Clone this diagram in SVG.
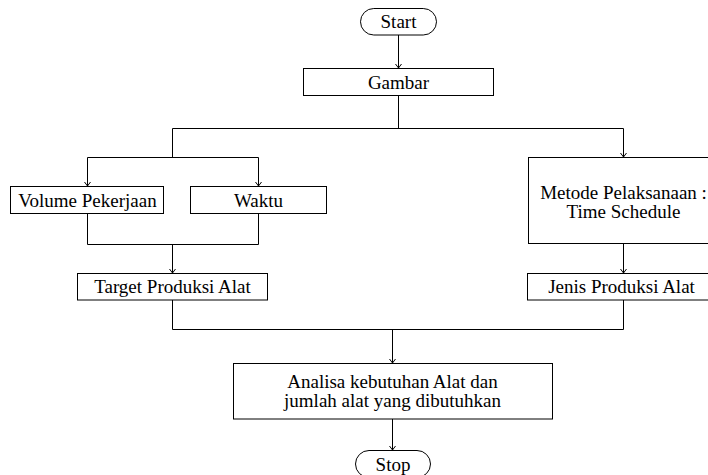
<svg xmlns="http://www.w3.org/2000/svg" width="708" height="475" viewBox="0 0 708 475">
<style>
.box{fill:#fff;stroke:#000;stroke-width:1}
.t{font-size:19px;fill:#000;text-anchor:middle}
.c{fill:none;stroke:#000;stroke-width:1}
</style>
<defs>
<marker id="arr" markerWidth="10" markerHeight="10" refX="5" refY="5" orient="auto" markerUnits="userSpaceOnUse">
<path d="M1,2 L5,5 L1,8" fill="none" stroke="#000" stroke-width="1"/>
</marker>
</defs>
<rect width="708" height="475" fill="#fff"/>
<g id="connectors">
<path class="c" d="M398.5,35 V68" marker-end="url(#arr)"/>
<path class="c" d="M398.5,96 V128.5 M172.5,128.5 H623.5"/>
<path class="c" d="M172.5,128.5 V157.5 M87.5,157.5 H258.5"/>
<path class="c" d="M87.5,157.5 V186" marker-end="url(#arr)"/>
<path class="c" d="M258.5,157.5 V186" marker-end="url(#arr)"/>
<path class="c" d="M623.5,128.5 V157" marker-end="url(#arr)"/>
<path class="c" d="M87.5,213 V244.5 H258.5 V213"/>
<path class="c" d="M172.5,244.5 V273" marker-end="url(#arr)"/>
<path class="c" d="M623.5,243 V273" marker-end="url(#arr)"/>
<path class="c" d="M172.5,300 V329.5 H623.5 V300"/>
<path class="c" d="M392.5,329.5 V363" marker-end="url(#arr)"/>
<path class="c" d="M392.5,419 V450" marker-end="url(#arr)"/>
</g>
<g font-family="Liberation Serif, DejaVu Serif, serif">
<g id="start">
<rect class="box" x="360.5" y="8.5" width="76" height="26.5" rx="13.25"/>
<text class="t" x="398.5" y="28">Start</text>
</g>
<g id="gambar">
<rect class="box" x="303.5" y="68.5" width="190" height="27"/>
<text class="t" x="398.5" y="88.5">Gambar</text>
</g>
<g id="volume">
<rect class="box" x="10.5" y="186.5" width="153" height="27"/>
<text class="t" x="87.5" y="206.5">Volume Pekerjaan</text>
</g>
<g id="waktu">
<rect class="box" x="190.5" y="186.5" width="136" height="27"/>
<text class="t" x="258.5" y="206.5">Waktu</text>
</g>
<g id="metode">
<rect class="box" x="528.5" y="157.5" width="190" height="86"/>
<text class="t" x="623.5" y="198.5">Metode Pelaksanaan :</text>
<text class="t" x="623.5" y="218">Time Schedule</text>
</g>
<g id="target">
<rect class="box" x="77.5" y="273.5" width="190" height="26.5"/>
<text class="t" x="172.5" y="293">Target Produksi Alat</text>
</g>
<g id="jenis">
<rect class="box" x="527.5" y="273.5" width="191" height="26.5"/>
<text class="t" x="621.5" y="293">Jenis Produksi Alat</text>
</g>
<g id="analisa">
<rect class="box" x="233.5" y="363.5" width="319" height="55.5"/>
<text class="t" x="392.5" y="387.5">Analisa kebutuhan Alat dan</text>
<text class="t" x="392.5" y="407">jumlah alat yang dibutuhkan</text>
</g>
<g id="stop">
<rect class="box" x="355.5" y="450.5" width="75" height="27" rx="13.5"/>
<text class="t" x="393" y="471">Stop</text>
</g>
</g>
</svg>
